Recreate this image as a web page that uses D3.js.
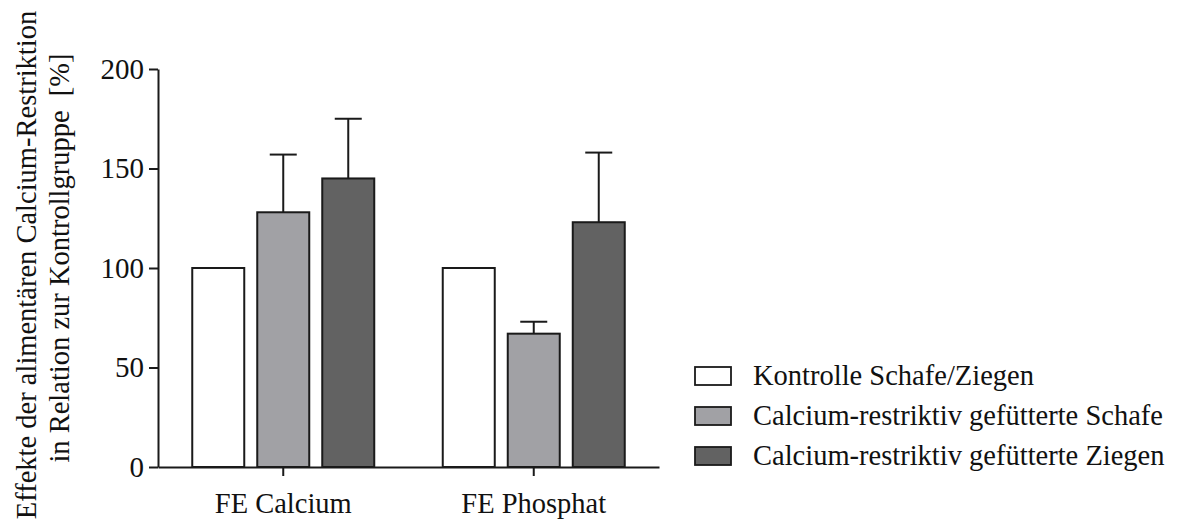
<!DOCTYPE html>
<html>
<head>
<meta charset="utf-8">
<script src="https://cdn.jsdelivr.net/npm/d3@7/dist/d3.min.js"></script>
<style>
  body { margin: 0; background: #fff; }
  text { font-family: "Liberation Serif", "Times New Roman", serif; fill: #111; }
</style>
</head>
<body>
<svg id="chart" width="1180" height="522"></svg>
<script>
// data
const categories = ['FE Calcium', 'FE Phosphat'];
const seriesNames = ['Kontrolle Schafe/Ziegen', 'Calcium-restriktiv gefütterte Schafe', 'Calcium-restriktiv gefütterte Ziegen'];
const seriesColors = ['#ffffff', '#a1a1a5', '#626262'];
const kontrolle = [100, 100];
const schafe = [128, 67];
const ziegen = [145, 123];
const schafeErr = [29, 6];
const ziegenErr = [30, 35];
const yTicks = [0, 50, 100, 150, 200];

const values = [kontrolle, schafe, ziegen];
const errors = [null, schafeErr, ziegenErr];

const svg = d3.select('#chart');
const margin = { top: 69, left: 158 };
const width = 501, height = 398;

const g = svg.append('g')
    .attr('transform', 'translate(' + margin.left + ',' + margin.top + ')');

// scales
const x0 = d3.scaleBand()
    .domain(categories)
    .range([0, width])
    .padding(0);

const x1 = d3.scaleBand()
    .domain(d3.range(seriesNames.length))
    .range([-97.5, 97.5])
    .paddingInner(0.2)
    .paddingOuter(0.1);

const y = d3.scaleLinear()
    .domain([0, 200])
    .range([height, 0]);

// bars + error bars (upper only)
categories.forEach((cat, ci) => {
    const cx = x0(cat) + x0.bandwidth() / 2;
    seriesNames.forEach((s, si) => {
        const v = values[si][ci];
        const bx = cx + x1(si);
        const bw = x1.bandwidth();
        if (errors[si]) {
            const top = v + errors[si][ci];
            g.append('line')
                .attr('x1', bx + bw / 2).attr('x2', bx + bw / 2)
                .attr('y1', y(v)).attr('y2', y(top))
                .attr('stroke', '#1a1a1a').attr('stroke-width', 2);
            g.append('line')
                .attr('x1', bx + bw / 2 - 13.5).attr('x2', bx + bw / 2 + 13.5)
                .attr('y1', y(top)).attr('y2', y(top))
                .attr('stroke', '#1a1a1a').attr('stroke-width', 2);
        }
        g.append('rect')
            .attr('x', bx)
            .attr('y', y(v))
            .attr('width', bw)
            .attr('height', y(0) - y(v))
            .attr('fill', seriesColors[si])
            .attr('stroke', '#1a1a1a')
            .attr('stroke-width', 2);
    });
});

// y axis
const yAxis = g.append('g')
    .call(d3.axisLeft(y).tickValues(yTicks).tickSize(9).tickSizeOuter(0).tickPadding(5));
yAxis.select('.domain').attr('stroke', '#1a1a1a').attr('stroke-width', 2);
yAxis.selectAll('line').attr('stroke', '#1a1a1a').attr('stroke-width', 2);
yAxis.selectAll('text')
    .style('font-size', '29px')
    .attr('fill', '#111');

// x axis
const xAxis = g.append('g')
    .attr('transform', 'translate(0,' + height + ')')
    .call(d3.axisBottom(x0).tickSize(9).tickSizeOuter(0).tickPadding(17));
xAxis.select('.domain').attr('stroke', '#1a1a1a').attr('stroke-width', 2);
xAxis.selectAll('line').attr('stroke', '#1a1a1a').attr('stroke-width', 2);
xAxis.selectAll('text')
    .style('font-size', '28.5px')
    .attr('fill', '#111');

// y axis title, two centred lines
const title = svg.append('text')
    .attr('transform', 'rotate(-90)')
    .attr('text-anchor', 'middle')
    .style('font-size', '28.5px');
title.append('tspan').attr('x', -265).attr('y', 36).text('Effekte der alimentären Calcium-Restriktion');
title.append('tspan').attr('x', -258).attr('y', 69).text('in Relation zur Kontrollgruppe\u00a0 [%]');

// legend
const legend = svg.append('g').attr('transform', 'translate(695,367)');
seriesNames.forEach((s, i) => {
    const row = legend.append('g').attr('transform', 'translate(0,' + (i * 40) + ')');
    row.append('rect')
        .attr('width', 36).attr('height', 18)
        .attr('fill', seriesColors[i])
        .attr('stroke', '#1a1a1a').attr('stroke-width', 1.8);
    row.append('text')
        .attr('x', 58).attr('y', 18)
        .style('font-size', '28.5px')
        .text(s);
});
</script>
</body>
</html>
